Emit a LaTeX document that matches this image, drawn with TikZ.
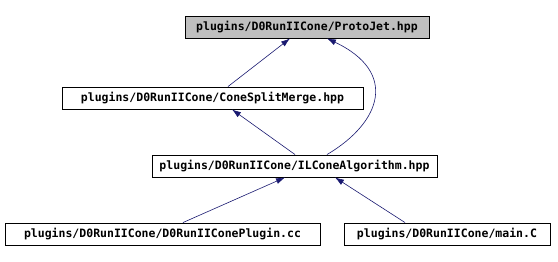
\documentclass[tikz,border=0pt]{standalone}
\usepackage{fontspec}
\setmonofont{DejaVu Sans Mono}
\usetikzlibrary{arrows.meta,calc}
\definecolor{edgecol}{HTML}{191970}
\definecolor{boxgray}{HTML}{BFBFBF}
\tikzset{
  filebox/.style={draw=black, line width=0.9pt, fill=white, minimum height=22pt, inner sep=0pt,
    font=\ttfamily\bfseries\fontsize{11.5}{13}\selectfont, anchor=center},
  dep/.style={draw=edgecol, line width=0.6pt, -{Latex[length=9pt,width=6pt]}}
}
\begin{document}
\begin{tikzpicture}[x=1pt,y=1pt]
\useasboundingbox (0,0) rectangle (558,262);
\node[filebox, fill=boxgray, minimum width=244pt] (pj) at (307,235) {plugins/D0RunIICone/ProtoJet.hpp};
\node[filebox, minimum width=301pt] (csm) at (212.5,164) {plugins/D0RunIICone/ConeSplitMerge.hpp};
\node[filebox, minimum width=285pt] (ilc) at (294.5,96) {plugins/D0RunIICone/ILConeAlgorithm.hpp};
\node[filebox, minimum width=315pt] (plg) at (162.5,28) {plugins/D0RunIICone/D0RunIIConePlugin.cc};
\node[filebox, minimum width=206pt] (mainc) at (447,28) {plugins/D0RunIICone/main.C};
\draw[dep] ([xshift=15.5pt]csm.north) -- ([xshift=-17pt]pj.south);
\draw[dep] ([xshift=32.5pt]ilc.north) .. controls (382,140) and (398,190) .. ([xshift=20pt]pj.south);
\draw[dep] ([xshift=0.5pt]ilc.north) -- ([xshift=19.5pt]csm.south);
\draw[dep] ([xshift=20.5pt]plg.north) -- ([xshift=-9.5pt]ilc.south);
\draw[dep] ([xshift=-42pt]mainc.north) -- ([xshift=40.5pt]ilc.south);
\end{tikzpicture}
\end{document}
